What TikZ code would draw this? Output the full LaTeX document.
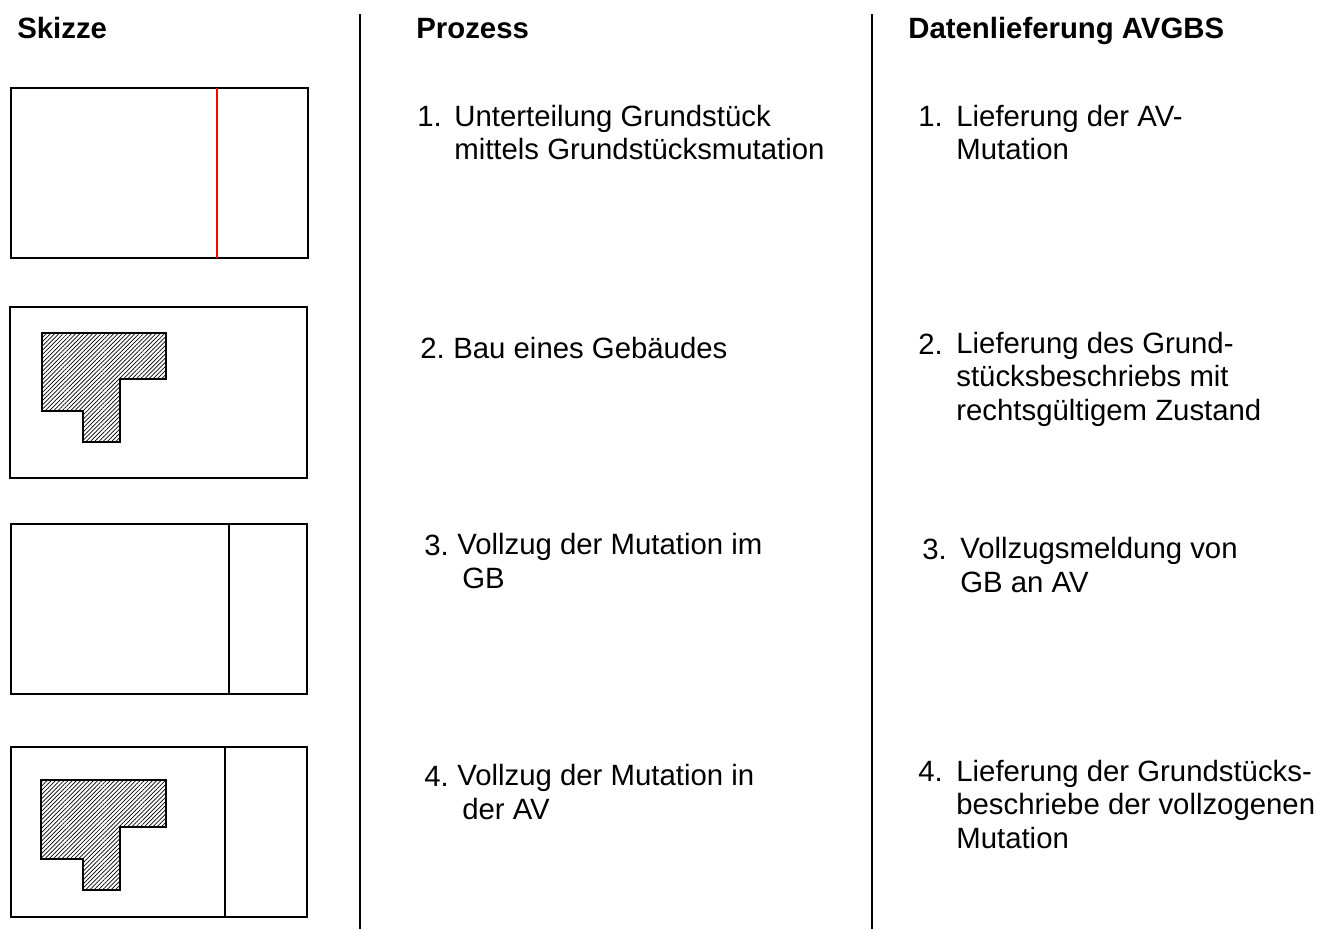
\documentclass[tikz,border=0pt]{standalone}
\usepackage{fontspec}
\setmainfont{Liberation Sans}
\usetikzlibrary{patterns.meta}
\tikzset{
  txt/.style={inner sep=0pt, anchor=base west, align=left, font=\fontsize{16.7}{18.9}\selectfont},
  head/.style={txt, font=\fontsize{16.7}{18.9}\selectfont\bfseries},
  lot/.style={line width=1pt},
  haus/.style={line width=1.2pt, pattern={Lines[angle=45, distance=1.7pt, line width=0.4pt]}}
}

\begin{document}
\begin{tikzpicture}[x=0.02cm, y=-0.02cm]
   % \draw[step=100,gray,very thin] (0,0) grid (1331,929);
    \useasboundingbox (0,0) rectangle (1331,929);
    \node[head] (skizze) at (17,39) {Skizze};
    \node[head] (prozess) at (416,39) {Prozess};
    \node[head] (daten) at (908,39) {Datenlieferung AVGBS};
    \draw[lot] (360,14) -- (360,929);
    \draw[lot] (872,14) -- (872,929);
    % Skizzen
    \draw[lot] (11,88) rectangle (308,258);
    \draw[lot, color=red] (217,88) -- (217,258);
    \draw[lot] (10,307) rectangle (307,478);
    \draw[haus] (42,333) -- (166,333) -- (166,379) -- (120,379) -- (120,442) -- (83,442) -- (83,411) -- (42,411) -- cycle;
    \draw[lot] (11,524) rectangle (307,694);
    \draw[lot] (229,524) -- (229,694);
    \draw[lot] (11,747) rectangle (307,917);
    \draw[lot] (225,747) -- (225,917);
    \draw[haus] (41,780) -- (166,780) -- (166,827) -- (120,827) -- (120,890) -- (83,890) -- (83,859) -- (41,859) -- cycle;
    % Prozess (base = letzte Zeile)
    \node[txt] (p1n) at (417,127) {1.};
    \node[txt] (p1) at (454,160) {Unterteilung Grundstück\\mittels Grundstücksmutation};
    \node[txt] (p2n) at (420,358) {2.};
    \node[txt] (p2) at (453,358) {Bau eines Gebäudes};
    \node[txt] (p3n) at (424,555) {3.};
    \node[txt] (p3) at (457,588) {Vollzug der Mutation im\\\hspace{2.8pt}GB};
    \node[txt] (p4n) at (424,786) {4.};
    \node[txt] (p4) at (457,819) {Vollzug der Mutation in\\\hspace{2.8pt}der AV};
    % Datenlieferung
    \node[txt] (d1n) at (918,127) {1.};
    \node[txt] (d1) at (956,160) {Lieferung der AV-\\Mutation};
    \node[txt] (d2n) at (918,354) {2.};
    \node[txt] (d2) at (956,420) {Lieferung des Grund-\\stücksbeschriebs mit\\rechtsgültigem Zustand};
    \node[txt] (d3n) at (922,559) {3.};
    \node[txt] (d3) at (960,592) {Vollzugsmeldung von\\GB an AV};
    \node[txt] (d4n) at (918,781) {4.};
    \node[txt] (d4) at (956,848) {Lieferung der Grundstücks-\\beschriebe der vollzogenen\\Mutation};
\end{tikzpicture}
\end{document}
